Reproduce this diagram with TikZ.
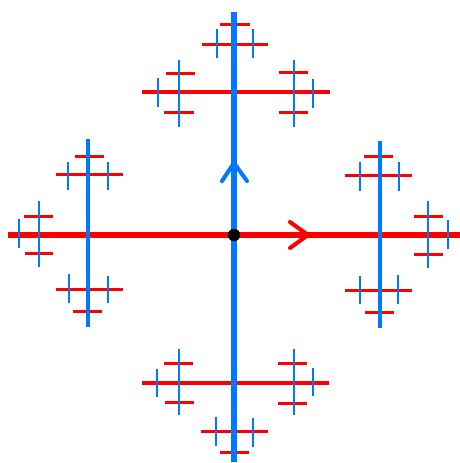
\documentclass[tikz,border=0pt]{standalone}
\usepackage{tikz}
\usetikzlibrary{positioning, arrows.meta, calc}

\definecolor{gred}{RGB}{255,0,0}
\definecolor{gblue}{RGB}{0,120,255}

\begin{document}
\begin{tikzpicture}[x=0.01cm, y=-0.01cm]
	\tikzset{
		gen/.style={line cap=butt},
		lvlA/.style={gen, line width=1.75pt},
		lvlB/.style={gen, line width=1.15pt},
		lvlC/.style={gen, line width=0.85pt},
		chevron/.style={line width=1.15pt, line cap=round, line join=round},
		vertex/.style={circle, fill=black, minimum size=1.25mm, inner sep=0pt}
	}
	\useasboundingbox (0,0) rectangle (460,463);
	% red edges
	\draw[lvlA, gred] (8,235) -- (460,235);
	\foreach \ya/\xa/\xb in {92/142/330, 383/142/329}
		\draw[lvlB, gred] (\xa,\ya) -- (\xb,\ya);
	\foreach \ya/\xa/\xb in {44/202/268, 431/201/268, 174/56/123, 289/56/123,
		175/345/412, 290/345/412}
		\draw[lvlC, gred] (\xa,\ya) -- (\xb,\ya);
	\foreach \ya/\xa/\xb in {216/24/53, 253/25/53, 216/414/443, 254/414/443,
		24/220/250, 452/220/249, 156/75/104, 311/73/102, 156/364/393, 312/365/394,
		73/166/195, 112/164/194, 72/279/308, 112/279/308,
		363/164/193, 402/165/194, 363/278/307, 403/278/307}
		\draw[lvlC, gred] (\xa,\ya) -- (\xb,\ya);
	% blue edges
	\draw[lvlA, gblue] (234,12) -- (234,462);
	\foreach \xa/\ya/\yb in {88/139/327, 380/141/328}
		\draw[lvlB, gblue] (\xa,\ya) -- (\xa,\yb);
	\foreach \xa/\ya/\yb in {39/201/267, 428/201/268, 179/60/127, 294/60/127,
		179/349/415, 294/349/415}
		\draw[lvlC, gblue] (\xa,\ya) -- (\xa,\yb);
	\foreach \xa/\ya/\yb in {19/219/248, 448/220/249, 217/29/58, 253/29/58,
		216/417/446, 253/418/447, 68/162/190, 108/162/190, 69/274/303, 108/276/303,
		360/162/191, 399/162/191, 360/276/304, 398/275/304,
		158/78/107, 313/79/108, 157/369/397, 313/368/396}
		\draw[lvlC, gblue] (\xa,\ya) -- (\xa,\yb);
	% generators
	\coordinate (a) at (308,235);
	\coordinate (b) at (234,163);
	\draw[chevron, gred] ($(a)+(-18,-13)$) -- (a) -- ($(a)+(-18,13)$);
	\draw[chevron, gblue] ($(b)+(-12,18)$) -- (b) -- ($(b)+(13,18)$);
	\node[vertex] (e) at (234,235) {};
\end{tikzpicture}
\end{document}
